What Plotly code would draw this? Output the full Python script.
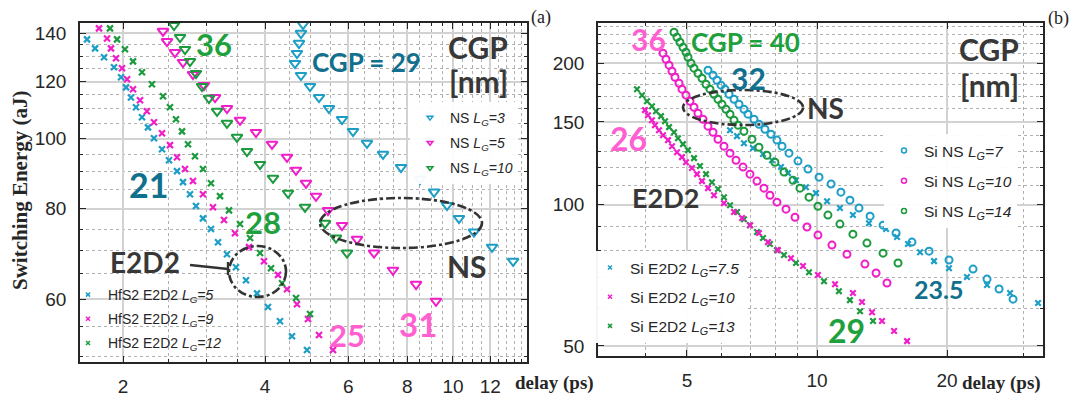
import plotly.graph_objects as go

# ---------------- Panel (a) data ----------------
a_e2d2_lg5_delay = [1.678,1.745,1.823,1.914,1.981,2.030,2.079,2.131,2.194,2.259,2.326,2.419,2.503,2.603,2.680,2.773,2.855,2.954,3.072,3.179,3.321,3.470,3.644,3.845,4.057,4.301,4.561,4.907]
a_e2d2_lg5_energy = [137.3,133.4,129.7,125.6,121.7,117.8,114.1,110.6,107.1,103.7,100.2,96.7,93.4,90.2,87.1,83.8,80.7,77.6,75.0,71.9,69.2,66.4,63.7,61.1,58.5,55.9,53.3,51.0]

a_e2d2_lg9_delay = [1.779,1.850,1.886,1.933,1.990,2.040,2.100,2.173,2.247,2.326,2.419,2.515,2.603,2.706,2.814,2.954,3.102,3.273,3.453,3.698,3.978,4.260,4.451,4.673,4.931,5.203,5.571]
a_e2d2_lg9_energy = [142.2,137.7,133.4,129.3,125.2,120.9,117.1,113.1,109.2,105.4,101.8,98.0,94.3,90.8,87.4,83.8,80.4,77.2,74.0,70.8,67.7,64.8,61.9,59.0,56.3,53.5,51.0]

a_e2d2_lg12_delay = [1.877,1.943,2.019,2.100,2.194,2.303,2.431,2.515,2.590,2.667,2.746,2.841,2.954,3.072,3.210,3.354,3.539,3.717,3.902,4.117,4.344,4.651,4.980]
a_e2d2_lg12_energy = [142.2,137.3,133.0,128.0,123.6,119.0,114.5,110.6,106.4,102.4,98.3,94.6,90.8,86.8,83.3,79.6,76.2,72.9,69.5,66.2,63.1,60.2,57.2]

a_ns_lg3_delay = [4.813,4.765,4.719,4.673,4.628,4.765,4.980,5.203,5.462,5.821,6.142,6.575,7.109,7.762,8.514,9.119,9.714,10.30,11.08,12.10,13.41]
a_ns_lg3_energy = [144.0,140.0,135.6,131.3,127.2,122.4,118.2,114.1,110.2,106.4,102.4,98.6,95.2,91.3,87.9,84.4,80.9,77.6,74.3,70.8,67.7]

a_ns_lg5_delay = [2.431,2.479,2.577,2.680,2.814,2.969,3.133,3.321,3.539,3.826,4.137,4.451,4.651,4.883,5.127,5.436,5.821,6.264,6.805,7.464,8.353,9.208]
a_ns_lg5_energy = [140.9,136.4,131.7,127.6,122.8,118.6,114.1,110.2,106.1,102.1,98.3,94.3,90.5,86.8,83.3,79.6,75.9,72.6,69.5,65.8,62.9,59.6]

a_ns_lg10_delay = [2.565,2.642,2.706,2.773,2.855,2.940,3.042,3.164,3.321,3.487,3.662,3.902,4.157,4.473,4.860,5.358,5.652,5.965]
a_ns_lg10_energy = [143.6,138.2,133.0,128.0,123.2,118.2,113.8,109.2,105.1,100.5,96.1,92.2,88.2,84.1,80.4,76.4,72.9,69.5]

# ---------------- Panel (b) data ----------------
b_ns_lg7_delay = [5.594,5.745,5.868,5.995,6.124,6.257,6.426,6.599,6.776,6.922,7.147,7.339,7.578,7.824,8.078,8.299,8.614,9.037,9.532,10.11,10.78,11.36,11.92,12.51,13.27,14.22,15.24,16.59,18.17,20.21,22.97,24.75,26.39,28.43]
b_ns_lg7_energy = [193.2,188.6,184.0,179.6,176.1,171.8,167.6,163.6,159.6,155.8,152.0,148.3,144.7,141.2,137.2,133.1,128.7,123.8,119.0,114.4,110.6,106.3,102.2,98.3,94.5,90.4,87.0,83.2,79.6,76.2,72.9,69.4,66.1,62.9]

b_e2d2_lg75_delay = [6.290,6.529,6.776,7.110,7.499,7.866,8.255,8.567,8.940,9.430,9.947,10.55,11.30,12.11,13.19,14.45,15.32,16.24,17.32,18.66,20.21,22.24,24.75,27.98,32.48]
b_e2d2_lg75_energy = [144.0,139.9,135.1,131.9,128.1,124.3,120.2,116.7,112.7,108.9,105.8,101.7,98.3,95.0,91.3,88.7,85.3,82.4,79.2,75.8,73.2,70.1,67.4,64.8,61.7]

b_ns_lg14_delay = [4.667,4.742,4.818,4.896,4.975,5.028,5.109,5.192,5.303,5.418,5.535,5.653,5.775,5.899,6.026,6.156,6.290,6.426,6.564,6.776,7.071,7.339,7.660,7.992,8.387,8.799,9.133,9.583,10.05,10.60,11.30,12.11,13.05,14.22,15.40]
b_ns_lg14_energy = [232.8,227.2,221.7,216.3,211.1,206.0,200.0,195.2,190.4,185.8,180.4,176.1,171.8,167.6,163.6,159.6,155.8,151.2,147.6,143.3,137.8,132.5,127.4,123.1,117.3,112.7,108.4,103.7,99.2,95.0,90.9,86.5,82.8,78.8,75.1]

b_ns_lg10_delay = [4.401,4.472,4.545,4.617,4.692,4.793,4.870,4.975,5.082,5.192,5.303,5.447,5.594,5.745,5.899,6.091,6.290,6.494,6.741,6.997,7.263,7.538,7.783,8.078,8.477,8.894,9.481,10.05,10.83,11.73,12.91,13.70,14.52]
b_ns_lg10_energy = [210.1,203.9,198.1,192.3,186.7,181.3,176.1,171.0,166.0,161.2,156.5,152.0,146.9,142.6,137.8,133.2,128.7,124.3,120.2,116.1,112.2,108.4,104.7,101.2,97.8,94.0,89.6,86.1,82.0,78.4,74.7,71.5,68.1]

b_e2d2_lg13_delay = [3.831,3.935,4.041,4.150,4.240,4.355,4.449,4.545,4.667,4.767,4.896,5.028,5.192,5.360,5.535,5.713,5.899,6.091,6.290,6.529,6.776,6.997,7.263,7.499,7.783,8.078,8.387,8.940,9.583,10.38,11.24,11.92,12.58,13.48]
b_e2d2_lg13_energy = [176.1,171.0,166.0,162.0,158.1,154.3,150.5,146.2,142.6,138.5,134.5,130.6,125.6,120.8,116.1,111.6,107.9,103.7,99.7,96.4,93.1,90.4,87.4,84.9,82.4,80.0,78.1,75.1,71.8,68.7,65.4,62.6,59.3,56.5]

b_e2d2_lg10_delay = [3.998,4.062,4.150,4.217,4.308,4.401,4.520,4.617,4.742,4.870,4.975,5.136,5.275,5.418,5.594,5.775,6.091,6.426,6.706,6.997,7.339,7.701,8.121,8.706,9.281,10.05,11.01,12.11,12.71,13.41,14.14,15.08,16.16]
b_e2d2_lg10_energy = [158.9,155.0,151.2,147.6,144.0,140.5,137.2,133.1,129.3,126.2,123.1,119.6,116.1,112.2,108.4,104.7,100.7,96.4,93.6,90.4,87.0,83.2,80.0,76.9,74.0,70.8,67.7,64.8,62.0,59.0,56.5,53.8,51.2]

# ---------------- tick labels ----------------
a_xticks = [2, 4, 6, 8, 10, 12]
a_xminor = [2.5, 3, 3.5, 4.5, 5, 5.5, 6.5, 7, 7.5, 8.5, 9, 9.5, 10.5, 11, 11.5, 12.5, 13, 13.5, 14]
a_yticks = [60, 80, 100, 120, 140]
a_yminor = [50, 55, 65, 70, 75, 85, 90, 95, 105, 110, 115, 125, 130, 135]
b_xticks = [5, 10, 20]
b_xminor = [4, 6, 7, 8, 9, 30]
b_yticks = [50, 100, 150, 200]
b_yminor = [60, 70, 80, 90, 110, 120, 130, 140, 160, 170, 180, 190, 210, 220, 230, 240]

CYAN = '#1d9ec6'
MAG = '#f01ec8'
GRN = '#1c9a3e'
TEAL = '#11708d'
PINK = '#ff5fd0'
GLAB = '#1ea13c'
DARK = '#383838'
W, H = 1070, 397

fig = go.Figure()

def add_pts(x, y, color, symbol, size, lw, xa, ya):
    fig.add_trace(go.Scatter(x=x, y=y, mode='markers', showlegend=False, hoverinfo='skip',
                             marker=dict(symbol=symbol, size=size, color=color,
                                         line=dict(color=color, width=lw)),
                             xaxis=xa, yaxis=ya))

def add_leg(name, color, symbol, size, legend, grp):
    fig.add_trace(go.Scatter(x=[None], y=[None], mode='markers', name=name, legend=legend,
                             legendgroup=grp,
                             marker=dict(symbol=symbol, size=size, color=color,
                                         line=dict(color=color, width=1.5)),
                             xaxis='x', yaxis='y'))

# Panel (a)
add_pts(a_e2d2_lg5_delay, a_e2d2_lg5_energy, CYAN, 'x-thin', 6, 2.2, 'x', 'y')
add_pts(a_e2d2_lg9_delay, a_e2d2_lg9_energy, MAG, 'x-thin', 6, 2.2, 'x', 'y')
add_pts(a_e2d2_lg12_delay, a_e2d2_lg12_energy, GRN, 'x-thin', 6, 2.2, 'x', 'y')
add_pts(a_ns_lg3_delay, a_ns_lg3_energy, CYAN, 'triangle-down-open', 9.5, 2, 'x', 'y')
add_pts(a_ns_lg5_delay, a_ns_lg5_energy, MAG, 'triangle-down-open', 9.5, 2, 'x', 'y')
add_pts(a_ns_lg10_delay, a_ns_lg10_energy, GRN, 'triangle-down-open', 9.5, 2, 'x', 'y')
# Panel (b)
add_pts(b_ns_lg7_delay, b_ns_lg7_energy, CYAN, 'circle-open', 7, 2, 'x2', 'y2')
add_pts(b_e2d2_lg75_delay, b_e2d2_lg75_energy, CYAN, 'x-thin', 5.5, 2.2, 'x2', 'y2')
add_pts(b_ns_lg14_delay, b_ns_lg14_energy, GRN, 'circle-open', 7, 2, 'x2', 'y2')
add_pts(b_ns_lg10_delay, b_ns_lg10_energy, MAG, 'circle-open', 7, 2, 'x2', 'y2')
add_pts(b_e2d2_lg13_delay, b_e2d2_lg13_energy, GRN, 'x-thin', 5.5, 2.2, 'x2', 'y2')
add_pts(b_e2d2_lg10_delay, b_e2d2_lg10_energy, MAG, 'x-thin', 5.5, 2.2, 'x2', 'y2')

LG = '<i>L</i><sub><i>G</i></sub><i>=%s</i>'
add_leg('NS ' + LG % '3', CYAN, 'triangle-down-open', 5, 'legend', 'a1')
add_leg('NS ' + LG % '5', MAG, 'triangle-down-open', 5, 'legend', 'a2')
add_leg('NS ' + LG % '10', GRN, 'triangle-down-open', 5, 'legend', 'a3')
add_leg('HfS2 E2D2 ' + LG % '5', CYAN, 'x-thin', 4, 'legend2', 'b1')
add_leg('HfS2 E2D2 ' + LG % '9', MAG, 'x-thin', 4, 'legend2', 'b2')
add_leg('HfS2 E2D2 ' + LG % '12', GRN, 'x-thin', 4, 'legend2', 'b3')
add_leg('Si NS ' + LG % '7', CYAN, 'circle-open', 5, 'legend3', 'c1')
add_leg('Si NS ' + LG % '10', MAG, 'circle-open', 5, 'legend3', 'c2')
add_leg('Si NS ' + LG % '14', GRN, 'circle-open', 5, 'legend3', 'c3')
add_leg('Si E2D2 ' + LG % '7.5', CYAN, 'x-thin', 4, 'legend4', 'd1')
add_leg('Si E2D2 ' + LG % '10', MAG, 'x-thin', 4, 'legend4', 'd2')
add_leg('Si E2D2 ' + LG % '13', GRN, 'x-thin', 4, 'legend4', 'd3')

TICKFONT = dict(family='Arial, Liberation Sans, sans-serif', size=19, color='#262626')

def axis(domain, rng, tickvals, minor_vals, standoff):
    return dict(type='log', domain=domain, range=rng, tickvals=tickvals,
                ticktext=[str(v) for v in tickvals], tickfont=TICKFONT,
                showgrid=True, gridcolor='#d2d2d2', gridwidth=1.6,
                showline=True, linecolor='#262626', linewidth=1.6, mirror='ticks',
                ticks='inside', ticklen=6, tickcolor='#262626', tickwidth=1.2,
                ticklabelstandoff=standoff, zeroline=False,
                minor=dict(tickvals=minor_vals, showgrid=True, griddash='dot',
                           gridcolor='#b0b0b0', gridwidth=1, ticks='inside',
                           ticklen=3, tickcolor='#262626'))

fig.update_layout(
    width=W, height=H, margin=dict(l=0, r=0, t=0, b=0),
    paper_bgcolor='white', plot_bgcolor='white',
    xaxis=dict(axis([80/W, 527/W], [0.2099, 1.1569], a_xticks, a_xminor, 6), anchor='y'),
    yaxis=dict(axis([35/H, 374/H], [1.6910, 2.1603], a_yticks, a_yminor, 8), anchor='x'),
    xaxis2=dict(axis([598/W, 1043/W], [0.4931, 1.5231], b_xticks, b_xminor, 6), anchor='y2'),
    yaxis2=dict(axis([41/H, 374/H], [1.6776, 2.3867], b_yticks, b_yminor, 8), anchor='x2'),
)

LEGFONT_A = dict(family='Arial, Liberation Sans, sans-serif', size=14, color='#262626')
LEGFONT_B = dict(family='Arial, Liberation Sans, sans-serif', size=15.5, color='#262626')
common = dict(borderwidth=0, xanchor='left', yanchor='top', itemclick=False, itemdoubleclick=False)
fig.update_layout(
    legend=dict(common, x=410/W, y=1-102/H, font=LEGFONT_A, tracegroupgap=4,
                bgcolor='rgba(255,255,255,0.95)'),
    legend2=dict(common, x=68/W, y=1-279/H, font=LEGFONT_A, tracegroupgap=3,
                 bgcolor='rgba(255,255,255,0)'),
    legend3=dict(common, x=884/W, y=1-134/H, font=LEGFONT_B, tracegroupgap=7,
                 bgcolor='rgba(255,255,255,0.95)'),
    legend4=dict(common, x=590/W, y=1-251/H, font=LEGFONT_B, tracegroupgap=6,
                 bgcolor='rgba(255,255,255,0.95)'),
)

LAB = 'Lato, Open Sans, sans-serif'
def label(text, cx, cy, size, color):
    fig.add_annotation(text='<b>%s</b>' % text, x=cx/W, y=1-cy/H, xref='paper', yref='paper',
                       showarrow=False, xanchor='center', yanchor='middle',
                       font=dict(family=LAB, size=size, color=color))

# panel (a) labels
label('36', 214, 44, 31, GLAB)
label('CGP = 29', 366, 62, 26, TEAL)
label('CGP', 478, 47, 30, DARK)
label('[nm]', 478, 81, 30, DARK)
label('21', 148, 185, 34, TEAL)
label('28', 263, 222, 31, GLAB)
label('E2D2', 145, 262, 28, DARK)
label('NS', 467, 266, 30, DARK)
label('25', 347, 335, 31, PINK)
label('31', 418, 324, 33, PINK)
# panel (b) labels
label('36', 648, 39, 30, PINK)
label('CGP = 40', 745, 42, 26, GLAB)
label('32', 748, 78, 30, TEAL)
label('NS', 825, 108, 28, DARK)
label('CGP', 989, 49, 30, DARK)
label('[nm]', 989, 85, 30, DARK)
label('26', 628, 138, 32, PINK)
label('E2D2', 665, 197, 27, DARK)
label('23.5', 938, 289, 25, TEAL)
label('29', 846, 330, 32, GLAB)

SERIF = 'Liberation Serif, Times New Roman, serif'
for txt, cx, cy in (('(a)', 541, 17), ('(b)', 1058, 19)):
    fig.add_annotation(text=txt, x=cx/W, y=1-cy/H, xref='paper', yref='paper', showarrow=False,
                       xanchor='center', yanchor='middle',
                       font=dict(family=SERIF, size=18, color='#222'))
for lx in (513, 960):
    fig.add_annotation(text='<b>delay (ps)</b>', x=lx/W, y=1-383/H, xref='paper', yref='paper',
                       showarrow=False, xanchor='left', yanchor='middle',
                       font=dict(family=SERIF, size=19, color='#262626'))
fig.add_annotation(text='<b>Switching Energy (aJ)</b>', x=20/W, y=1-190/H, xref='paper', yref='paper',
                   showarrow=False, textangle=-90, xanchor='center', yanchor='middle',
                   font=dict(family=SERIF, size=21, color='#262626'))

# ellipses and pointer (decorations, paper coords)
ell = dict(type='circle', xref='paper', yref='paper', line=dict(color='#333', width=2.6, dash='dashdot'))
fig.add_shape(ell, x0=229/W, x1=286/W, y0=1-297/H, y1=1-246/H)
fig.add_shape(ell, x0=320/W, x1=482/W, y0=1-248/H, y1=1-198/H)
fig.add_shape(ell, x0=683/W, x1=803/W, y0=1-125/H, y1=1-90/H)
fig.add_shape(type='line', xref='paper', yref='paper', x0=190/W, y0=1-265/H, x1=228/W, y1=1-269/H,
              line=dict(color='#333', width=2.4))
fig.add_shape(type='line', xref='paper', yref='paper', x0=228/W, y0=1-262/H, x1=228/W, y1=1-275/H,
              line=dict(color='#333', width=2.4))

fig.write_html('out.html', config={'displayModeBar': False},
               post_script="document.body.style.margin='0';document.body.style.overflow='hidden';")
